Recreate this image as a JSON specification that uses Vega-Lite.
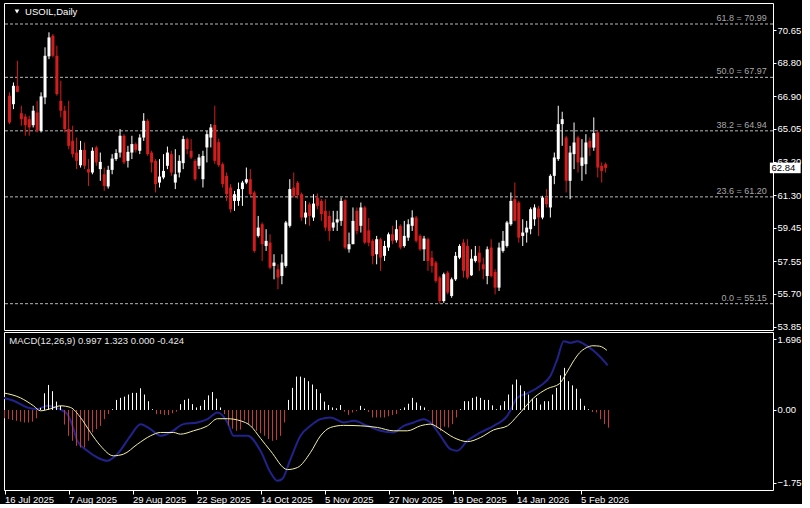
{
  "$schema": "https://vega.github.io/schema/vega-lite/v6.json",
  "background": "#000000",
  "padding": {"left": 3, "top": 2, "right": 0, "bottom": 0},
  "spacing": 2,
  "bounds": "flush",
  "config": {
    "view": {"stroke": "#ffffff", "strokeWidth": 1},
    "font": "Liberation Sans",
    "axis": {"grid": false, "domain": false, "tickColor": "#ffffff", "labelColor": "#ffffff", "labelFont": "Liberation Sans", "labelFontSize": 9.5, "labelOverlap": false, "labelFlush": false, "labelBound": false}
  },
  "datasets": {
    "candles": [
      {"i":0,"o":66.93,"h":67.12,"l":65.32,"c":65.41},
      {"i":1,"o":66.45,"h":67.68,"l":66.17,"c":67.49},
      {"i":2,"o":67.49,"h":68.91,"l":67.12,"c":67.15},
      {"i":3,"o":65.94,"h":66.36,"l":65.23,"c":65.60},
      {"i":4,"o":65.75,"h":65.89,"l":64.66,"c":65.26},
      {"i":5,"o":65.60,"h":65.79,"l":64.66,"c":65.13},
      {"i":6,"o":65.26,"h":66.36,"l":65.13,"c":66.08},
      {"i":7,"o":65.98,"h":66.64,"l":64.85,"c":64.94},
      {"i":8,"o":64.94,"h":67.12,"l":64.85,"c":66.89},
      {"i":9,"o":66.83,"h":69.67,"l":66.45,"c":69.19},
      {"i":10,"o":69.16,"h":70.52,"l":69.00,"c":70.23},
      {"i":11,"o":70.33,"h":70.42,"l":69.10,"c":69.19},
      {"i":12,"o":69.19,"h":69.76,"l":66.93,"c":67.02},
      {"i":13,"o":66.64,"h":67.78,"l":65.70,"c":66.08},
      {"i":14,"o":66.08,"h":66.36,"l":64.85,"c":65.04},
      {"i":15,"o":65.04,"h":66.64,"l":63.90,"c":64.09},
      {"i":16,"o":64.37,"h":65.23,"l":63.43,"c":63.62},
      {"i":17,"o":63.71,"h":64.56,"l":62.77,"c":63.24},
      {"i":18,"o":62.99,"h":64.37,"l":62.86,"c":63.86},
      {"i":19,"o":63.86,"h":64.28,"l":62.77,"c":62.96},
      {"i":20,"o":62.77,"h":63.34,"l":61.82,"c":62.58},
      {"i":21,"o":62.58,"h":64.00,"l":62.48,"c":63.81},
      {"i":22,"o":64.00,"h":64.09,"l":62.96,"c":63.15},
      {"i":23,"o":62.77,"h":63.71,"l":62.11,"c":63.18},
      {"i":24,"o":62.48,"h":62.86,"l":61.54,"c":61.82},
      {"i":25,"o":61.79,"h":62.96,"l":61.67,"c":62.73},
      {"i":26,"o":62.73,"h":63.62,"l":62.48,"c":63.37},
      {"i":27,"o":63.34,"h":63.90,"l":63.24,"c":63.68},
      {"i":28,"o":63.71,"h":65.04,"l":63.43,"c":64.66},
      {"i":29,"o":64.66,"h":64.75,"l":63.05,"c":63.15},
      {"i":30,"o":63.24,"h":64.09,"l":62.86,"c":63.75},
      {"i":31,"o":63.71,"h":64.66,"l":63.34,"c":64.19},
      {"i":32,"o":64.19,"h":64.28,"l":63.71,"c":63.86},
      {"i":33,"o":63.81,"h":64.75,"l":63.62,"c":64.56},
      {"i":34,"o":64.56,"h":65.94,"l":64.37,"c":65.51},
      {"i":35,"o":65.51,"h":65.60,"l":63.52,"c":63.62},
      {"i":36,"o":63.71,"h":63.81,"l":62.58,"c":63.15},
      {"i":37,"o":63.24,"h":63.34,"l":61.45,"c":61.92},
      {"i":38,"o":62.01,"h":63.34,"l":61.73,"c":62.35},
      {"i":39,"o":62.30,"h":63.62,"l":62.20,"c":62.67},
      {"i":40,"o":62.96,"h":64.05,"l":62.77,"c":63.71},
      {"i":41,"o":63.62,"h":63.81,"l":62.39,"c":62.58},
      {"i":42,"o":62.01,"h":63.90,"l":61.64,"c":62.48},
      {"i":43,"o":62.58,"h":63.56,"l":62.30,"c":63.24},
      {"i":44,"o":63.11,"h":64.66,"l":62.77,"c":64.47},
      {"i":45,"o":64.47,"h":64.56,"l":63.62,"c":63.90},
      {"i":46,"o":63.81,"h":64.47,"l":63.34,"c":63.43},
      {"i":47,"o":63.24,"h":63.34,"l":62.11,"c":62.20},
      {"i":48,"o":62.96,"h":63.62,"l":62.77,"c":63.43},
      {"i":49,"o":62.20,"h":63.81,"l":61.73,"c":63.52},
      {"i":50,"o":64.00,"h":64.94,"l":63.15,"c":64.75},
      {"i":51,"o":64.56,"h":65.32,"l":64.00,"c":65.13},
      {"i":52,"o":65.28,"h":66.36,"l":63.07,"c":63.24},
      {"i":53,"o":64.30,"h":64.50,"l":62.90,"c":63.00},
      {"i":54,"o":63.05,"h":63.15,"l":61.73,"c":61.92},
      {"i":55,"o":62.39,"h":62.58,"l":60.97,"c":61.35},
      {"i":56,"o":61.73,"h":61.92,"l":60.31,"c":60.50},
      {"i":57,"o":60.97,"h":61.54,"l":60.41,"c":61.35},
      {"i":58,"o":60.97,"h":62.01,"l":60.69,"c":61.64},
      {"i":59,"o":61.64,"h":62.11,"l":60.69,"c":62.01},
      {"i":60,"o":62.01,"h":62.86,"l":61.92,"c":62.20},
      {"i":61,"o":62.20,"h":62.77,"l":61.26,"c":61.35},
      {"i":62,"o":61.45,"h":61.54,"l":58.04,"c":58.14},
      {"i":63,"o":58.99,"h":60.12,"l":58.90,"c":59.46},
      {"i":64,"o":59.65,"h":59.75,"l":57.57,"c":58.52},
      {"i":65,"o":58.42,"h":59.37,"l":58.14,"c":58.71},
      {"i":66,"o":58.61,"h":59.08,"l":57.10,"c":57.19},
      {"i":67,"o":57.29,"h":57.95,"l":56.53,"c":57.48},
      {"i":68,"o":57.10,"h":57.38,"l":55.97,"c":56.63},
      {"i":69,"o":56.72,"h":57.95,"l":56.25,"c":57.48},
      {"i":70,"o":57.29,"h":59.84,"l":57.19,"c":59.75},
      {"i":71,"o":59.56,"h":62.20,"l":59.46,"c":61.64},
      {"i":72,"o":61.73,"h":62.58,"l":61.16,"c":61.26},
      {"i":73,"o":62.00,"h":62.10,"l":61.10,"c":61.30},
      {"i":74,"o":61.35,"h":61.45,"l":59.84,"c":60.03},
      {"i":75,"o":60.03,"h":60.97,"l":59.65,"c":60.31},
      {"i":76,"o":60.78,"h":60.88,"l":59.56,"c":60.12},
      {"i":77,"o":60.03,"h":61.35,"l":59.84,"c":60.82},
      {"i":78,"o":61.16,"h":61.39,"l":60.50,"c":60.69},
      {"i":79,"o":60.97,"h":61.07,"l":59.84,"c":60.22},
      {"i":80,"o":60.41,"h":61.07,"l":59.27,"c":59.46},
      {"i":81,"o":60.12,"h":60.41,"l":58.71,"c":59.27},
      {"i":82,"o":59.46,"h":60.41,"l":59.27,"c":59.75},
      {"i":83,"o":59.75,"h":60.41,"l":59.27,"c":59.93},
      {"i":84,"o":59.84,"h":61.16,"l":59.56,"c":60.97},
      {"i":85,"o":61.01,"h":61.07,"l":58.23,"c":58.33},
      {"i":86,"o":58.23,"h":59.18,"l":58.04,"c":58.52},
      {"i":87,"o":58.52,"h":60.60,"l":58.52,"c":59.84},
      {"i":88,"o":60.41,"h":60.60,"l":59.08,"c":59.27},
      {"i":89,"o":59.56,"h":60.88,"l":59.18,"c":60.60},
      {"i":90,"o":60.60,"h":60.69,"l":58.52,"c":58.61},
      {"i":91,"o":59.30,"h":60.00,"l":58.40,"c":58.60},
      {"i":92,"o":58.71,"h":58.80,"l":57.38,"c":57.86},
      {"i":93,"o":57.95,"h":58.99,"l":57.38,"c":58.80},
      {"i":94,"o":58.80,"h":58.89,"l":57.01,"c":57.76},
      {"i":95,"o":57.86,"h":58.71,"l":57.57,"c":58.42},
      {"i":96,"o":58.33,"h":59.18,"l":58.14,"c":59.08},
      {"i":97,"o":59.08,"h":59.56,"l":58.52,"c":58.71},
      {"i":98,"o":58.74,"h":59.88,"l":58.61,"c":59.37},
      {"i":99,"o":59.56,"h":59.65,"l":58.23,"c":58.33},
      {"i":100,"o":58.42,"h":59.84,"l":58.33,"c":58.99},
      {"i":101,"o":58.89,"h":59.93,"l":58.71,"c":59.65},
      {"i":102,"o":59.56,"h":60.44,"l":59.27,"c":60.03},
      {"i":103,"o":60.03,"h":60.12,"l":58.61,"c":58.71},
      {"i":104,"o":58.99,"h":59.08,"l":58.14,"c":58.23},
      {"i":105,"o":58.23,"h":58.99,"l":57.57,"c":58.84},
      {"i":106,"o":58.80,"h":58.89,"l":57.01,"c":57.57},
      {"i":107,"o":57.76,"h":58.14,"l":56.91,"c":57.29},
      {"i":108,"o":57.48,"h":57.57,"l":56.34,"c":56.44},
      {"i":109,"o":56.63,"h":56.72,"l":55.15,"c":55.30},
      {"i":110,"o":55.30,"h":56.91,"l":55.20,"c":56.82},
      {"i":111,"o":56.91,"h":57.01,"l":55.68,"c":55.78},
      {"i":112,"o":55.59,"h":56.63,"l":55.49,"c":56.53},
      {"i":113,"o":56.53,"h":58.08,"l":56.44,"c":57.86},
      {"i":114,"o":57.76,"h":58.52,"l":57.67,"c":58.42},
      {"i":115,"o":58.61,"h":58.80,"l":56.63,"c":57.01},
      {"i":116,"o":58.42,"h":58.80,"l":56.53,"c":56.63},
      {"i":117,"o":56.76,"h":58.23,"l":56.72,"c":57.70},
      {"i":118,"o":57.57,"h":58.42,"l":57.48,"c":57.86},
      {"i":119,"o":58.04,"h":58.42,"l":57.01,"c":57.48},
      {"i":120,"o":57.38,"h":57.76,"l":56.53,"c":57.10},
      {"i":121,"o":56.72,"h":58.39,"l":56.25,"c":58.23},
      {"i":122,"o":58.33,"h":58.80,"l":56.63,"c":56.72},
      {"i":123,"o":56.95,"h":57.10,"l":55.68,"c":56.06},
      {"i":124,"o":56.06,"h":58.61,"l":55.87,"c":58.33},
      {"i":125,"o":58.14,"h":59.27,"l":58.04,"c":58.71},
      {"i":126,"o":58.42,"h":59.84,"l":58.33,"c":59.75},
      {"i":127,"o":59.65,"h":61.45,"l":59.56,"c":60.97},
      {"i":128,"o":61.07,"h":62.01,"l":59.84,"c":59.84},
      {"i":129,"o":60.88,"h":60.97,"l":58.61,"c":58.89},
      {"i":130,"o":58.99,"h":59.93,"l":58.42,"c":59.18},
      {"i":131,"o":59.18,"h":59.84,"l":58.61,"c":59.46},
      {"i":132,"o":59.37,"h":60.60,"l":59.08,"c":60.50},
      {"i":133,"o":59.93,"h":60.78,"l":59.56,"c":60.60},
      {"i":134,"o":60.54,"h":60.69,"l":58.99,"c":60.03},
      {"i":135,"o":60.03,"h":61.26,"l":59.93,"c":61.16},
      {"i":136,"o":61.16,"h":61.64,"l":60.60,"c":60.78},
      {"i":137,"o":60.60,"h":62.48,"l":60.03,"c":62.39},
      {"i":138,"o":62.39,"h":63.71,"l":61.92,"c":63.43},
      {"i":139,"o":63.34,"h":66.36,"l":63.24,"c":65.32},
      {"i":140,"o":65.32,"h":66.02,"l":64.09,"c":65.60},
      {"i":141,"o":64.56,"h":64.66,"l":61.45,"c":62.11},
      {"i":142,"o":62.11,"h":64.09,"l":61.07,"c":63.71},
      {"i":143,"o":63.62,"h":65.41,"l":62.77,"c":64.28},
      {"i":144,"o":64.56,"h":64.66,"l":62.58,"c":63.15},
      {"i":145,"o":62.96,"h":64.47,"l":62.11,"c":63.43},
      {"i":146,"o":63.05,"h":64.75,"l":62.48,"c":64.28},
      {"i":147,"o":64.37,"h":64.56,"l":63.52,"c":63.99},
      {"i":148,"o":63.99,"h":65.70,"l":63.81,"c":64.81},
      {"i":149,"o":64.85,"h":64.94,"l":62.30,"c":62.86},
      {"i":150,"o":62.96,"h":63.15,"l":62.01,"c":62.67},
      {"i":151,"o":63.05,"h":63.15,"l":62.58,"c":62.84}
    ],
    "hist": [
      {"i":0,"v":-0.2},{"i":1,"v":-0.22},{"i":2,"v":-0.24},{"i":3,"v":-0.26},{"i":4,"v":-0.28},{"i":5,"v":-0.3},{"i":6,"v":-0.3},{"i":7,"v":-0.28},{"i":8,"v":-0.2},{"i":9,"v":0.05},
      {"i":10,"v":0.4},{"i":11,"v":0.6},{"i":12,"v":0.45},{"i":13,"v":0.2},{"i":14,"v":0.1},{"i":15,"v":-0.35},{"i":16,"v":-0.62},{"i":17,"v":-0.74},{"i":18,"v":-0.86},{"i":19,"v":-0.9},
      {"i":20,"v":-0.9},{"i":21,"v":-0.74},{"i":22,"v":-0.54},{"i":23,"v":-0.46},{"i":24,"v":-0.38},{"i":25,"v":-0.22},{"i":26,"v":-0.1},{"i":27,"v":0.02},{"i":28,"v":0.24},{"i":29,"v":0.29},
      {"i":30,"v":0.32},{"i":31,"v":0.37},{"i":32,"v":0.41},{"i":33,"v":0.41},{"i":34,"v":0.52},{"i":35,"v":0.37},{"i":36,"v":0.21},{"i":37,"v":0.02},{"i":38,"v":-0.1},{"i":39,"v":-0.1},
      {"i":40,"v":-0.12},{"i":41,"v":-0.12},{"i":42,"v":-0.08},{"i":43,"v":-0.04},{"i":44,"v":0.14},{"i":45,"v":0.24},{"i":46,"v":0.27},{"i":47,"v":0.14},{"i":48,"v":0.06},{"i":49,"v":0.1},
      {"i":50,"v":0.24},{"i":51,"v":0.35},{"i":52,"v":0.43},{"i":53,"v":0.27},{"i":54,"v":0.06},{"i":55,"v":-0.1},{"i":56,"v":-0.37},{"i":57,"v":-0.45},{"i":58,"v":-0.5},{"i":59,"v":-0.47},
      {"i":60,"v":-0.25},{"i":61,"v":-0.34},{"i":62,"v":-0.42},{"i":63,"v":-0.5},{"i":64,"v":-0.56},{"i":65,"v":-0.62},{"i":66,"v":-0.7},{"i":67,"v":-0.74},{"i":68,"v":-0.72},{"i":69,"v":-0.62},
      {"i":70,"v":-0.3},{"i":71,"v":0.24},{"i":72,"v":0.53},{"i":73,"v":0.8},{"i":74,"v":0.8},{"i":75,"v":0.77},{"i":76,"v":0.69},{"i":77,"v":0.61},{"i":78,"v":0.5},{"i":79,"v":0.4},
      {"i":80,"v":0.2},{"i":81,"v":0.12},{"i":82,"v":0.06},{"i":83,"v":0.04},{"i":84,"v":0.12},{"i":85,"v":-0.04},{"i":86,"v":-0.12},{"i":87,"v":-0.06},{"i":88,"v":-0.03},{"i":89,"v":0.1},
      {"i":90,"v":0.03},{"i":91,"v":-0.05},{"i":92,"v":-0.18},{"i":93,"v":-0.18},{"i":94,"v":-0.18},{"i":95,"v":-0.18},{"i":96,"v":-0.15},{"i":97,"v":-0.12},{"i":98,"v":-0.1},{"i":99,"v":0.02},
      {"i":100,"v":0.06},{"i":101,"v":0.15},{"i":102,"v":0.29},{"i":103,"v":0.18},{"i":104,"v":0.1},{"i":105,"v":0.06},{"i":106,"v":-0.02},{"i":107,"v":-0.34},{"i":108,"v":-0.42},{"i":109,"v":-0.5},
      {"i":110,"v":-0.4},{"i":111,"v":-0.42},{"i":112,"v":-0.34},{"i":113,"v":-0.18},{"i":114,"v":0.02},{"i":115,"v":0.21},{"i":116,"v":0.21},{"i":117,"v":0.29},{"i":118,"v":0.32},{"i":119,"v":0.29},
      {"i":120,"v":0.24},{"i":121,"v":0.24},{"i":122,"v":0.11},{"i":123,"v":0.02},{"i":124,"v":0.11},{"i":125,"v":0.21},{"i":126,"v":0.37},{"i":127,"v":0.61},{"i":128,"v":0.73},{"i":129,"v":0.59},
      {"i":130,"v":0.45},{"i":131,"v":0.37},{"i":132,"v":0.27},{"i":133,"v":0.29},{"i":134,"v":0.13},{"i":135,"v":0.21},{"i":136,"v":0.21},{"i":137,"v":0.37},{"i":138,"v":0.53},{"i":139,"v":0.83},
      {"i":140,"v":1.01},{"i":141,"v":0.69},{"i":142,"v":0.59},{"i":143,"v":0.51},{"i":144,"v":0.27},{"i":145,"v":0.1},{"i":146,"v":0.02},{"i":147,"v":-0.05},{"i":148,"v":-0.06},{"i":149,"v":-0.22},
      {"i":150,"v":-0.34},{"i":151,"v":-0.424}
    ],
    "sig": [
      {"i":-0.25,"v":0.41},{"i":4,"v":0.29},{"i":7.25,"v":0.1},{"i":9,"v":-0.02},{"i":11.5,"v":0.03},{"i":14,"v":0.1},{"i":16.5,"v":0.06},{"i":19,"v":-0.18},{"i":21.5,"v":-0.54},{"i":24,"v":-0.86},
      {"i":27.25,"v":-1.1},{"i":29.75,"v":-1.06},{"i":33.25,"v":-0.82},{"i":36.5,"v":-0.62},{"i":39,"v":-0.54},{"i":42.25,"v":-0.54},{"i":44,"v":-0.58},{"i":47.25,"v":-0.5},{"i":50.75,"v":-0.38},{"i":53.25,"v":-0.21},
      {"i":55.75,"v":-0.21},{"i":59,"v":-0.26},{"i":61.5,"v":-0.38},{"i":64,"v":-0.68},{"i":66.5,"v":-0.98},{"i":70.75,"v":-1.43},{"i":73.25,"v":-1.38},{"i":76.5,"v":-1.02},{"i":79,"v":-0.62},{"i":81.5,"v":-0.42},
      {"i":84.75,"v":-0.37},{"i":89,"v":-0.38},{"i":93.25,"v":-0.42},{"i":97.25,"v":-0.5},{"i":100.75,"v":-0.5},{"i":104,"v":-0.38},{"i":106.5,"v":-0.34},{"i":109,"v":-0.46},{"i":112.25,"v":-0.66},{"i":115.75,"v":-0.76},
      {"i":119,"v":-0.66},{"i":122.25,"v":-0.48},{"i":125.75,"v":-0.38},{"i":128.25,"v":-0.14},{"i":132.3,"v":0.29},{"i":135.7,"v":0.51},{"i":138.75,"v":0.63},{"i":140.4,"v":0.87},{"i":142.1,"v":1.15},{"i":143.75,"v":1.37},
      {"i":145.4,"v":1.49},{"i":147.1,"v":1.54},{"i":148.75,"v":1.53},{"i":150.6,"v":1.43}
    ],
    "mac": [
      {"i":-0.2,"v":0.29},{"i":2.3,"v":0.22},{"i":5.7,"v":0.06},{"i":8.2,"v":0.02},{"i":10.7,"v":0.1},{"i":13.5,"v":0.03},{"i":15.7,"v":-0.1},{"i":17,"v":-0.38},{"i":18.2,"v":-0.74},{"i":20.7,"v":-0.98},
      {"i":23.2,"v":-1.14},{"i":25.7,"v":-1.22},{"i":28.2,"v":-1.06},{"i":31.5,"v":-0.62},{"i":34,"v":-0.34},{"i":36.5,"v":-0.46},{"i":39,"v":-0.62},{"i":41.5,"v":-0.54},{"i":44.75,"v":-0.34},{"i":48.25,"v":-0.3},
      {"i":50.75,"v":-0.22},{"i":53.25,"v":-0.06},{"i":55.75,"v":-0.3},{"i":57.25,"v":-0.62},{"i":60.75,"v":-0.62},{"i":64,"v":-0.98},{"i":66.5,"v":-1.5},{"i":68.2,"v":-1.7},{"i":69.4,"v":-1.66},{"i":71.5,"v":-1.18},
      {"i":74,"v":-0.62},{"i":76.5,"v":-0.38},{"i":79,"v":-0.22},{"i":81.5,"v":-0.18},{"i":84.8,"v":-0.3},{"i":87.3,"v":-0.26},{"i":90.7,"v":-0.38},{"i":94,"v":-0.5},{"i":97.3,"v":-0.54},{"i":99.8,"v":-0.38},
      {"i":102.3,"v":-0.3},{"i":104.8,"v":-0.22},{"i":106.5,"v":-0.3},{"i":109,"v":-0.62},{"i":111.5,"v":-0.94},{"i":113.2,"v":-0.98},{"i":115.7,"v":-0.74},{"i":119,"v":-0.54},{"i":122.3,"v":-0.38},{"i":125.7,"v":-0.14},
      {"i":128.2,"v":0.29},{"i":130.7,"v":0.4},{"i":134,"v":0.58},{"i":136.5,"v":0.82},{"i":138.2,"v":1.22},{"i":139.8,"v":1.65},{"i":141.5,"v":1.61},{"i":143.2,"v":1.65},{"i":145.7,"v":1.53},{"i":148.2,"v":1.34},
      {"i":150.8,"v":1.07}
    ],
    "fib": [
      {"price":70.99,"label":"61.8 = 70.99"},
      {"price":67.97,"label":"50.0 = 67.97"},
      {"price":64.94,"label":"38.2 = 64.94"},
      {"price":61.20,"label":"23.6 = 61.20"},
      {"price":55.15,"label":"0.0 = 55.15"}
    ],
    "one": [{"k": 1}]
  },
  "vconcat": [
    {
      "width": 769,
      "height": 327,
      "layer": [
        {
          "data": {"name": "fib"},
          "mark": {"type": "rule", "color": "#b8b8b8", "strokeDash": [3, 2], "strokeWidth": 1},
          "encoding": {
            "y": {"field": "price", "type": "quantitative",
              "scale": {"domain": [53.66, 72.18], "nice": false, "zero": false},
              "axis": {"orient": "right", "title": null, "values": [70.65, 68.8, 66.9, 65.05, 63.2, 61.3, 59.45, 57.55, 55.7, 53.85], "format": ".2f", "tickSize": 3, "labelPadding": 1}}
          }
        },
        {
          "data": {"name": "fib"},
          "mark": {"type": "text", "align": "right", "baseline": "bottom", "dy": -1, "color": "#a8a8a8", "font": "Liberation Sans", "fontSize": 9},
          "encoding": {
            "x": {"datum": 191.8, "type": "quantitative", "axis": null},
            "y": {"field": "price", "type": "quantitative", "axis": {"orient": "right", "title": null, "values": [70.65, 68.8, 66.9, 65.05, 63.2, 61.3, 59.45, 57.55, 55.7, 53.85], "format": ".2f", "tickSize": 3, "labelPadding": 1}},
            "text": {"field": "label"}
          }
        },
        {
          "data": {"name": "candles"},
          "mark": {"type": "rule", "strokeWidth": 1, "clip": true},
          "encoding": {
            "x": {"field": "i", "type": "quantitative", "scale": {"domain": [-0.125, 192.125], "nice": false, "zero": false}, "axis": null},
            "y": {"field": "l", "type": "quantitative", "axis": {"orient": "right", "title": null, "values": [70.65, 68.8, 66.9, 65.05, 63.2, 61.3, 59.45, 57.55, 55.7, 53.85], "format": ".2f", "tickSize": 3, "labelPadding": 1}},
            "y2": {"field": "h"},
            "color": {"condition": {"test": "datum.c >= datum.o", "value": "#ffffff"}, "value": "#d41c1c"}
          }
        },
        {
          "data": {"name": "candles"},
          "mark": {"type": "bar", "size": 3, "clip": true},
          "encoding": {
            "x": {"field": "i", "type": "quantitative", "axis": null},
            "y": {"field": "o", "type": "quantitative", "axis": {"orient": "right", "title": null, "values": [70.65, 68.8, 66.9, 65.05, 63.2, 61.3, 59.45, 57.55, 55.7, 53.85], "format": ".2f", "tickSize": 3, "labelPadding": 1}},
            "y2": {"field": "c"},
            "color": {"condition": {"test": "datum.c >= datum.o", "value": "#ffffff"}, "value": "#d41c1c"}
          }
        },
        {
          "data": {"name": "one"},
          "mark": {"type": "point", "shape": "triangle-down", "filled": true, "color": "#ffffff", "size": 22, "opacity": 1},
          "encoding": {
            "x": {"datum": 1.9, "type": "quantitative", "axis": null},
            "y": {"datum": 71.70, "type": "quantitative", "axis": {"orient": "right", "title": null, "values": [70.65, 68.8, 66.9, 65.05, 63.2, 61.3, 59.45, 57.55, 55.7, 53.85], "format": ".2f", "tickSize": 3, "labelPadding": 1}}
          }
        },
        {
          "data": {"name": "one"},
          "mark": {"type": "text", "align": "left", "baseline": "middle", "color": "#ffffff", "font": "Liberation Sans", "fontSize": 9.5},
          "encoding": {
            "x": {"datum": 3.95, "type": "quantitative", "axis": null},
            "y": {"datum": 71.67, "type": "quantitative", "axis": {"orient": "right", "title": null, "values": [70.65, 68.8, 66.9, 65.05, 63.2, 61.3, 59.45, 57.55, 55.7, 53.85], "format": ".2f", "tickSize": 3, "labelPadding": 1}},
            "text": {"value": "USOIL,Daily"}
          }
        },
        {
          "data": {"name": "one"},
          "mark": {"type": "rect", "color": "#ffffff", "clip": false},
          "encoding": {
            "x": {"datum": 192.6, "type": "quantitative", "axis": null},
            "x2": {"datum": 200.4},
            "y": {"datum": 63.14, "type": "quantitative", "axis": {"orient": "right", "title": null, "values": [70.65, 68.8, 66.9, 65.05, 63.2, 61.3, 59.45, 57.55, 55.7, 53.85], "format": ".2f", "tickSize": 3, "labelPadding": 1}},
            "y2": {"datum": 62.54}
          }
        },
        {
          "data": {"name": "one"},
          "mark": {"type": "text", "align": "left", "baseline": "middle", "color": "#000000", "font": "Liberation Sans", "fontSize": 9.5, "clip": false},
          "encoding": {
            "x": {"datum": 193.0, "type": "quantitative", "axis": null},
            "y": {"datum": 62.84, "type": "quantitative", "axis": {"orient": "right", "title": null, "values": [70.65, 68.8, 66.9, 65.05, 63.2, 61.3, 59.45, 57.55, 55.7, 53.85], "format": ".2f", "tickSize": 3, "labelPadding": 1}},
            "text": {"value": "62.84"}
          }
        }
      ]
    },
    {
      "width": 769,
      "height": 158,
      "layer": [
        {
          "data": {"name": "mac"},
          "mark": {"type": "line", "color": "#22228c", "strokeWidth": 2, "interpolate": "monotone", "clip": true},
          "encoding": {
            "x": {"field": "i", "type": "quantitative",
              "scale": {"domain": [-0.125, 192.125], "nice": false, "zero": false},
              "axis": {"orient": "bottom", "title": null, "values": [0, 16, 32, 48, 64, 80, 96, 112, 128, 144], "labelExpr": "['16 Jul 2025','7 Aug 2025','29 Aug 2025','22 Sep 2025','14 Oct 2025','5 Nov 2025','27 Nov 2025','19 Dec 2025','14 Jan 2026','5 Feb 2026'][round(datum.value/16)]", "labelAlign": "left", "tickSize": 4, "labelPadding": 0}},
            "y": {"field": "v", "type": "quantitative",
              "scale": {"domain": [-1.92, 1.87], "nice": false, "zero": false},
              "axis": {"orient": "right", "title": null, "values": [1.696, 0, -1.75], "labelExpr": "datum.value == 1.696 ? '1.696' : format(datum.value, '.2f')", "tickSize": 3, "labelPadding": 1}}
          }
        },
        {
          "data": {"name": "hist"},
          "mark": {"type": "rule", "strokeWidth": 1},
          "encoding": {
            "x": {"field": "i", "type": "quantitative", "axis": {"orient": "bottom", "title": null, "values": [0, 16, 32, 48, 64, 80, 96, 112, 128, 144], "labelExpr": "['16 Jul 2025','7 Aug 2025','29 Aug 2025','22 Sep 2025','14 Oct 2025','5 Nov 2025','27 Nov 2025','19 Dec 2025','14 Jan 2026','5 Feb 2026'][round(datum.value/16)]", "labelAlign": "left", "tickSize": 4, "labelPadding": 0}},
            "y": {"field": "v", "type": "quantitative", "axis": {"orient": "right", "title": null, "values": [1.696, 0, -1.75], "labelExpr": "datum.value == 1.696 ? '1.696' : format(datum.value, '.2f')", "tickSize": 3, "labelPadding": 1}},
            "y2": {"datum": 0},
            "color": {"condition": {"test": "datum.v >= 0", "value": "#ffffff"}, "value": "#c83a3a"}
          }
        },
        {
          "data": {"name": "sig"},
          "mark": {"type": "line", "color": "#f4f0a0", "strokeWidth": 1, "interpolate": "monotone", "clip": true},
          "encoding": {
            "x": {"field": "i", "type": "quantitative", "axis": {"orient": "bottom", "title": null, "values": [0, 16, 32, 48, 64, 80, 96, 112, 128, 144], "labelExpr": "['16 Jul 2025','7 Aug 2025','29 Aug 2025','22 Sep 2025','14 Oct 2025','5 Nov 2025','27 Nov 2025','19 Dec 2025','14 Jan 2026','5 Feb 2026'][round(datum.value/16)]", "labelAlign": "left", "tickSize": 4, "labelPadding": 0}},
            "y": {"field": "v", "type": "quantitative", "axis": {"orient": "right", "title": null, "values": [1.696, 0, -1.75], "labelExpr": "datum.value == 1.696 ? '1.696' : format(datum.value, '.2f')", "tickSize": 3, "labelPadding": 1}}
          }
        },
        {
          "data": {"name": "one"},
          "mark": {"type": "text", "align": "left", "baseline": "middle", "color": "#e8e8e8", "font": "Liberation Sans", "fontSize": 9.5},
          "encoding": {
            "x": {"datum": 1.2, "type": "quantitative", "axis": {"orient": "bottom", "title": null, "values": [0, 16, 32, 48, 64, 80, 96, 112, 128, 144], "labelExpr": "['16 Jul 2025','7 Aug 2025','29 Aug 2025','22 Sep 2025','14 Oct 2025','5 Nov 2025','27 Nov 2025','19 Dec 2025','14 Jan 2026','5 Feb 2026'][round(datum.value/16)]", "labelAlign": "left", "tickSize": 4, "labelPadding": 0}},
            "y": {"datum": 1.654, "type": "quantitative", "axis": {"orient": "right", "title": null, "values": [1.696, 0, -1.75], "labelExpr": "datum.value == 1.696 ? '1.696' : format(datum.value, '.2f')", "tickSize": 3, "labelPadding": 1}},
            "text": {"value": "MACD(12,26,9) 0.997 1.323 0.000 -0.424"}
          }
        }
      ]
    }
  ]
}
